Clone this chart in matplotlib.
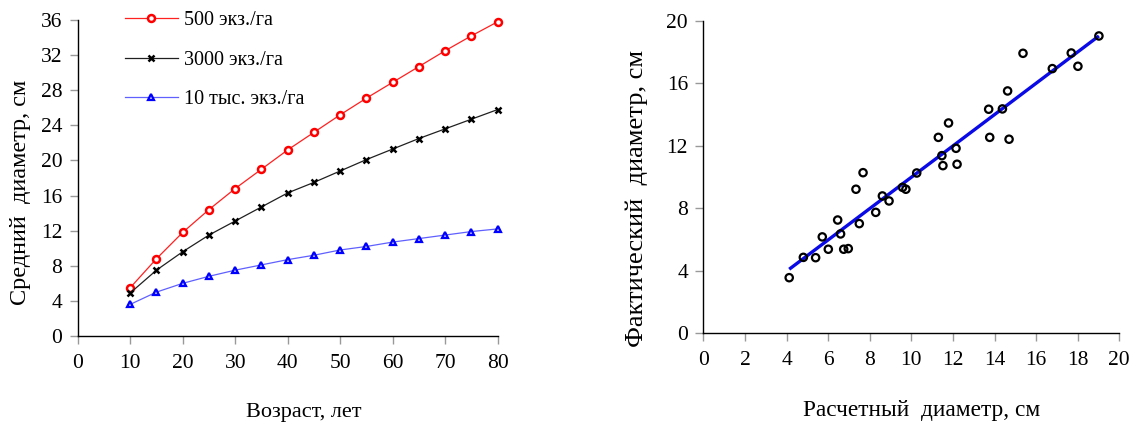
import matplotlib
matplotlib.use("Agg")
import matplotlib.pyplot as plt

# ---- Left chart data ----
age = [10, 15, 20, 25, 30, 35, 40, 45, 50, 55, 60, 65, 70, 75, 80]
d_500 = [5.5, 8.8, 11.8, 14.4, 16.8, 19.0, 21.2, 23.2, 25.2, 27.1, 28.9, 30.7, 32.5, 34.2, 35.8]
d_3000 = [4.9, 7.5, 9.6, 11.5, 13.1, 14.7, 16.3, 17.5, 18.8, 20.1, 21.3, 22.5, 23.6, 24.7, 25.8]
d_10k = [3.6, 5.0, 6.0, 6.8, 7.5, 8.1, 8.7, 9.2, 9.8, 10.2, 10.7, 11.1, 11.5, 11.9, 12.2]
series_labels = ["500 экз./га", "3000 экз./га", "10 тыс. экз./га"]
left_xticks = [0, 10, 20, 30, 40, 50, 60, 70, 80]
left_yticks = [0, 4, 8, 12, 16, 20, 24, 28, 32, 36]

# ---- Right chart data ----
calc_d = [4.13, 4.81, 5.40, 5.72, 6.01, 6.46, 6.60, 6.75, 6.97, 7.34, 7.50, 7.68,
          8.29, 8.61, 8.93, 9.58, 9.74, 10.26, 11.30, 11.47, 11.52, 11.79, 12.15,
          12.20, 13.72, 13.77, 14.38, 14.63, 14.70, 15.37, 16.78, 17.69, 18.01, 19.02]
fact_d = [3.56, 4.86, 4.84, 6.17, 5.38, 7.25, 6.36, 5.38, 5.42, 9.22, 7.02, 10.28,
          7.74, 8.79, 8.47, 9.34, 9.22, 10.26, 12.54, 11.37, 10.73, 13.46, 11.84,
          10.82, 14.34, 12.54, 14.36, 15.51, 12.42, 17.92, 16.94, 17.94, 17.09, 19.03]
fit_x = [4.13, 19.02]
fit_y = [4.10, 19.03]
right_xticks = [0, 2, 4, 6, 8, 10, 12, 14, 16, 18, 20]
right_yticks = [0, 4, 8, 12, 16, 20]

plt.rcParams['font.family'] = ['Liberation Serif', 'DejaVu Serif']

fig = plt.figure(figsize=(11.39, 4.25), dpi=100)
W, H = 1139, 425

def style(ax):
    for s in ('top', 'right'):
        ax.spines[s].set_visible(False)
    for s in ('left', 'bottom'):
        ax.spines[s].set_color('black')
        ax.spines[s].set_linewidth(1.0)
    ax.tick_params(axis='both', direction='out', length=6, width=1,
                   color='#999999', labelsize=15.5)
    ax.tick_params(axis='x', pad=7)
    ax.tick_params(axis='y', pad=5)

# Left axes
ax1 = fig.add_axes([77.7 / W, (H - 336) / H, 420 / W, 316 / H])
style(ax1)
ax1.plot(age, d_500, color='#ff2020', lw=0.9, marker='o', ms=5, mfc='white',
         mec='red', mew=1.8, label=series_labels[0], clip_on=False)
ax1.plot(age, d_3000, color='#202020', lw=0.9, marker='x', ms=4.5, mec='black',
         mew=1.8, label=series_labels[1], clip_on=False)
ax1.plot(age, d_10k, color='#6060ff', lw=0.9, marker='^', ms=5, mfc='#c0c0ff',
         mec='blue', mew=1.6, label=series_labels[2], clip_on=False)
ax1.set_xlim(0, 80)
ax1.set_ylim(0, 36)
ax1.set_xticks(left_xticks)
ax1.set_yticks(left_yticks)
ax1.set_xlabel('Возраст, лет', fontsize=16)
ax1.xaxis.label.set_va('baseline')
ax1.xaxis.set_label_coords((304 - 77.7) / 420, (336 - 417) / 316)
ax1.set_ylabel('Средний  диаметр, см', fontsize=17.5)
ax1.yaxis.label.set_va('center')
ax1.yaxis.set_label_coords((21 - 77.7) / 420, (336 - 192) / 316)
leg = ax1.legend(loc='upper left', bbox_to_anchor=(0.07, 1.085), frameon=False,
                 fontsize=14.5, labelspacing=1.0, handlelength=2.6,
                 handletextpad=0.3)

# Right axes
ax2 = fig.add_axes([703.3 / W, (H - 333.3) / H, 416 / W, 312.5 / H])
style(ax2)
ax2.plot(fit_x, fit_y, color='#0a0ae6', lw=2.4, solid_capstyle='butt')
ax2.scatter(calc_d, fact_d, s=28, facecolors='none', edgecolors='black',
            linewidths=1.6, zorder=3, clip_on=False)
ax2.set_xlim(0, 20)
ax2.set_ylim(0, 20)
ax2.set_xticks(right_xticks)
ax2.set_yticks(right_yticks)
ax2.set_xlabel('Расчетный  диаметр, см', fontsize=16.8)
ax2.xaxis.label.set_va('baseline')
ax2.xaxis.set_label_coords((922 - 703.3) / 416, (333.3 - 416) / 312.5)
ax2.set_ylabel('Фактический  диаметр, см', fontsize=19)
ax2.yaxis.label.set_va('center')
ax2.yaxis.set_label_coords((637 - 703.3) / 416, (333.3 - 198) / 312.5)

fig.savefig('out.png', dpi=100)
